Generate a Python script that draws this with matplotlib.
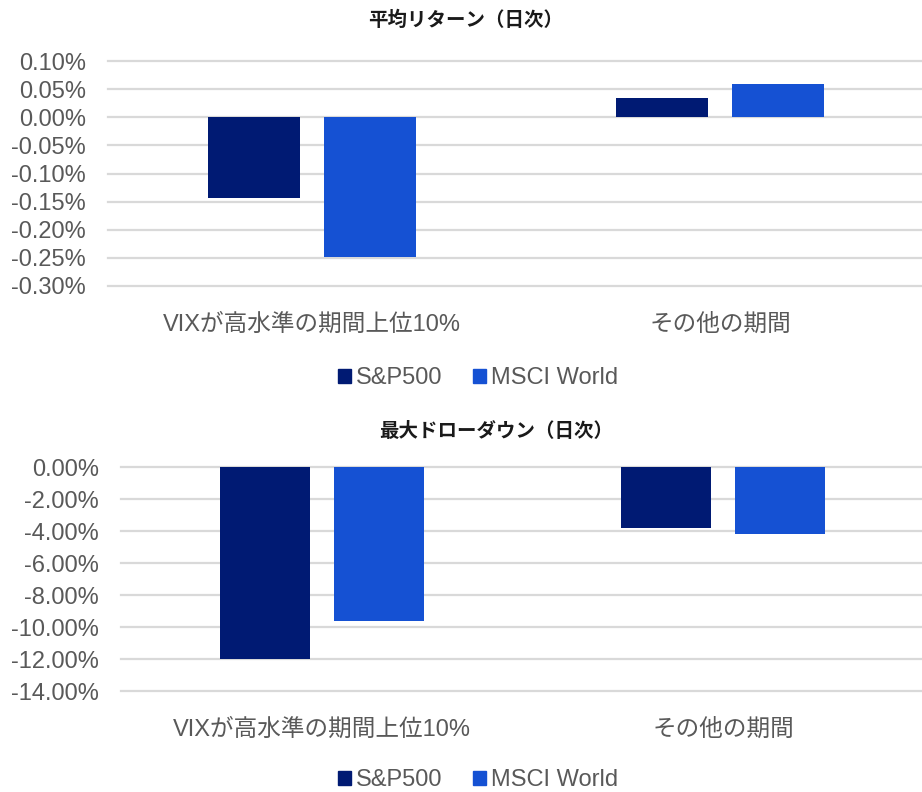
import matplotlib.pyplot as plt
import numpy as np
from matplotlib.patches import Patch

plt.rcParams['font.family'] = ['Liberation Sans', 'Noto Sans CJK JP']

# data (percent)
categories = ['VIXが高水準の期間上位10%', 'その他の期間']
series = ['S&P500', 'MSCI World']
ret_sp = [-0.143, 0.034]
ret_msci = [-0.249, 0.060]
dd_sp = [-12.0, -3.81]
dd_msci = [-9.63, -4.19]
ret_ticks = [0.10, 0.05, 0.00, -0.05, -0.10, -0.15, -0.20, -0.25, -0.30]
dd_ticks = [0, -2, -4, -6, -8, -10, -12, -14]

c_sp = '#001a73'
c_msci = '#1551d3'
grey = '#595959'

fig = plt.figure(figsize=(9.22, 7.92), dpi=100)

def panel(rect, v1, v2, ticks, fmt, title, tx, ty, ly):
    ax = fig.add_axes(rect)
    x = np.arange(len(categories))
    w = 0.225
    ax.bar(x - 0.142, v1, w, color=c_sp, label=series[0])
    ax.bar(x + 0.142, v2, w, color=c_msci, label=series[1])
    ax.set_xlim(-0.5, 1.5)
    ax.set_ylim(min(ticks), max(ticks))
    ax.set_yticks(ticks)
    ax.set_yticklabels([fmt % t for t in ticks])
    ax.set_xticks(x)
    ax.set_xticklabels(categories)
    ax.tick_params(axis='y', length=0, pad=16, labelsize=17, labelcolor=grey)
    ax.tick_params(axis='x', length=0, pad=20, labelsize=17, labelcolor=grey)
    for s in ax.spines.values():
        s.set_visible(False)
    ax.set_axisbelow(True)
    ax.grid(axis='y', color='#d9d9d9', linewidth=1.6)
    for gl in ax.get_ygridlines():
        gl.set_clip_on(False)
    fig.text(tx, ty, title, ha='center', va='center', fontsize=14,
             fontweight='bold', color='#1a1a1a', family=['Noto Sans CJK JP'])
    handles = [Patch(color=c_sp), Patch(color=c_msci)]
    fig.legend(handles, series, loc='center', bbox_to_anchor=(478 / 922, ly),
               ncol=2, frameon=False, fontsize=17, labelcolor=grey,
               handlelength=0.55, handleheight=0.55, handletextpad=0.2,
               columnspacing=1.3)
    return ax

panel([108 / 922, 1 - 286 / 792, 816 / 922, 225 / 792], ret_sp, ret_msci,
      ret_ticks, '%.2f%%', '平均リターン（日次）', 466 / 922, 1 - 20 / 792,
      1 - 378 / 792)
panel([121 / 922, 1 - 691 / 792, 803 / 922, 224 / 792], dd_sp, dd_msci,
      dd_ticks, '%.2f%%', '最大ドローダウン（日次）', 496 / 922, 1 - 432 / 792,
      1 - 780 / 792)

plt.savefig('out.png', dpi=100)
